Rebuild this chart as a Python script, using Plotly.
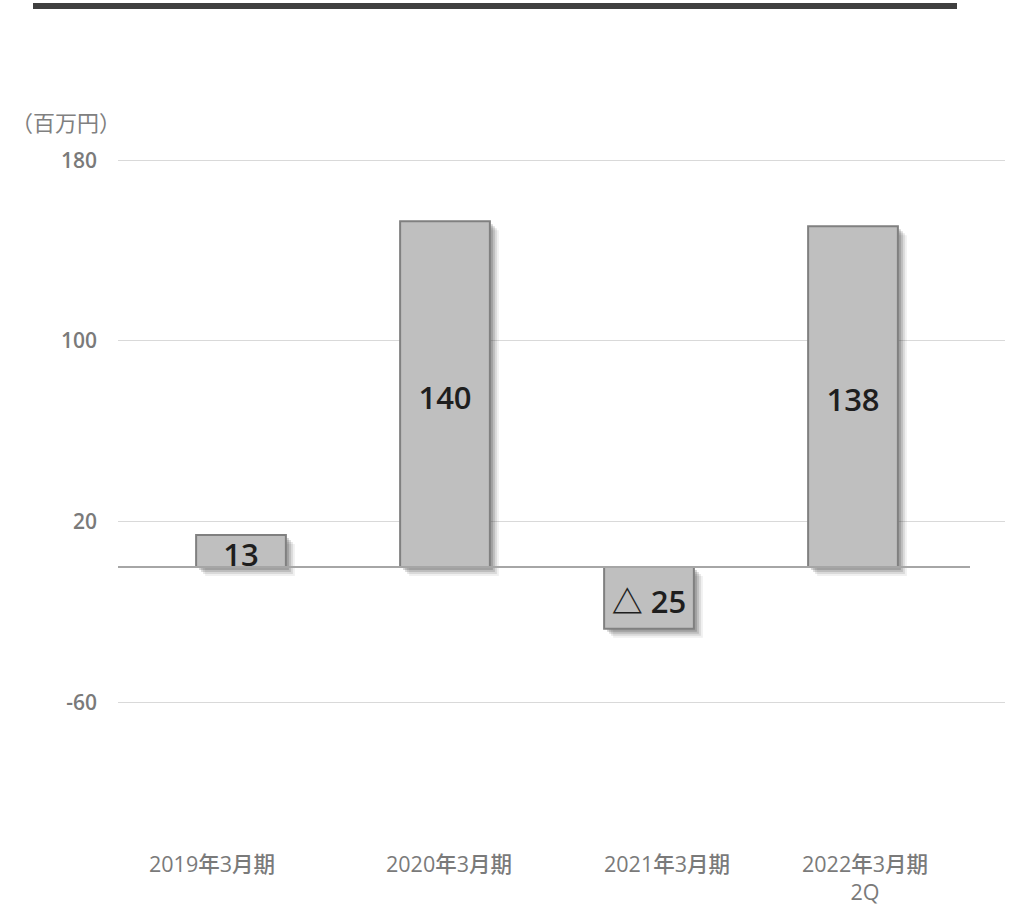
import plotly.graph_objects as go

# ---- data ----
categories = ["2019年3月期", "2020年3月期", "2021年3月期", "2022年3月期<br>2Q"]
values = [13, 140, -25, 138]
tick_labels = [180, 100, 20, -60]
unit_label = "（百万円）"

# The reference axis is drawn at a slightly different scale than the bars
AXIS_FACTOR = 0.915

# ---- geometry ----
W, H = 1012, 910
ML, MR, MT, MB = 118, 7, 140, 65
PW, PH = W - ML - MR, H - MT - MB

ZERO_PX = 567.0
K = 2.47  # px per unit
y_top = (ZERO_PX - MT) / K
y_bot = -((H - MB) - ZERO_PX) / K

BAR0_PX, BAR_STEP = 241.0, 204.0
x_left = (ML - BAR0_PX) / BAR_STEP
x_right = ((W - MR) - BAR0_PX) / BAR_STEP


def px_x(px):
    return (px - ML) / PW


def px_y(py):
    return (H - MB - py) / PH


xs = list(range(len(categories)))
BW = 0.44
FONT = "Open Sans, Noto Sans CJK JP, sans-serif"
LABEL_SHIFTS = [-29, 4, 18, 12]  # horizontal placement of category labels (px)

fig = go.Figure()

# soft shadow layers
for dpx, op in [(9, 0.08), (7, 0.12), (5, 0.18), (3, 0.22)]:
    fig.add_trace(go.Bar(
        x=xs, y=values, base=[-dpx / K] * len(values),
        width=BW, offset=-BW / 2 + dpx / BAR_STEP,
        marker=dict(color=f"rgba(60,60,60,{op})", line=dict(width=0)),
        hoverinfo="skip", showlegend=False,
    ))

# main bars
fig.add_trace(go.Bar(
    x=xs, y=values, width=BW, offset=-BW / 2,
    marker=dict(color="#bfbfbf", line=dict(color="#808080", width=2)),
    showlegend=False,
))

# value labels
labels = [("△ " + str(abs(v))) if v < 0 else str(v) for v in values]
fig.add_trace(go.Scatter(
    x=xs, y=[v / 2 - 7 / K for v in values], mode="text", text=labels,
    textfont=dict(family=FONT, size=31, color="#1e1e1e", weight=600),
    textposition="middle center", showlegend=False, hoverinfo="skip",
))

shapes = [
    # zero baseline
    dict(type="line", xref="paper", yref="y", x0=0, x1=px_x(970), y0=0, y1=0,
         line=dict(color="#a6a6a6", width=2), layer="above"),
    # top dark rule
    dict(type="line", xref="paper", yref="paper", x0=px_x(33), x1=px_x(957),
         y0=px_y(6), y1=px_y(6), line=dict(color="#3f3f3f", width=6)),
]

annotations = [
    dict(text=unit_label, xref="paper", yref="paper", x=px_x(66), y=px_y(121),
         xanchor="center", yanchor="middle", showarrow=False,
         font=dict(family="Noto Sans CJK JP", size=22, color="#808080")),
]
for i, cat in enumerate(categories):
    annotations.append(dict(
        text=cat, xref="x", yref="paper", x=xs[i], y=px_y(847),
        xanchor="center", yanchor="top", xshift=LABEL_SHIFTS[i], showarrow=False,
        align="center",
        font=dict(family=FONT, size=21.5, color="#7a7a7a", weight=500),
    ))

fig.update_layout(
    width=W, height=H,
    margin=dict(l=ML, r=MR, t=MT, b=MB, autoexpand=False),
    paper_bgcolor="white", plot_bgcolor="white",
    barmode="overlay",
    shapes=shapes, annotations=annotations,
    xaxis=dict(
        range=[x_left, x_right], tickmode="array", tickvals=xs,
        showticklabels=False,
        showgrid=False, zeroline=False, showline=False, ticks="",
    ),
    yaxis=dict(
        range=[y_bot, y_top], tickmode="array",
        tickvals=[t * AXIS_FACTOR for t in tick_labels],
        ticktext=[str(t) for t in tick_labels],
        showgrid=True, gridcolor="#d9d9d9", gridwidth=1,
        zeroline=False, showline=False, ticks="", ticklabelstandoff=20,
        tickfont=dict(family=FONT, size=21, color="#7a7a7a", weight=600),
    ),
)

fig.write_html("out.html")
